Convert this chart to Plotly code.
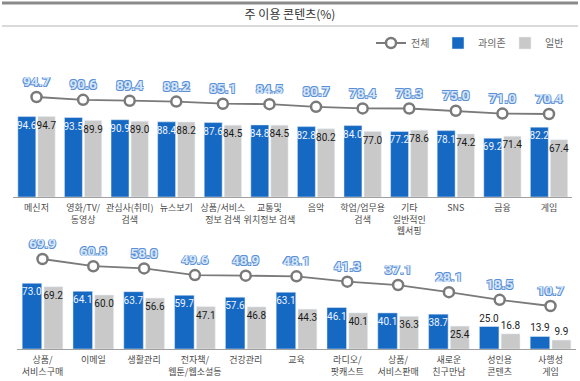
import plotly.graph_objects as go

# ---------------- data ----------------
top_categories = ["메신저", "영화/TV/<br>동영상", "관심사(취미)<br>검색", "뉴스보기",
                  "상품/서비스<br>정보 검색", "교통및<br>위치정보 검색", "음악",
                  "학업/업무용<br>검색", "기타<br>일반적인<br>웹서핑", "SNS", "금융", "게임"]
top_total = [94.7, 90.6, 89.4, 88.2, 85.1, 84.5, 80.7, 78.4, 78.3, 75.0, 71.0, 70.4]
top_overdep = [94.6, 93.5, 90.9, 88.4, 87.6, 84.8, 82.8, 84.0, 77.2, 78.1, 69.2, 82.2]
top_general = [94.7, 89.9, 89.0, 88.2, 84.5, 84.5, 80.2, 77.0, 78.6, 74.2, 71.4, 67.4]

bot_categories = ["상품/<br>서비스구매", "이메일", "생활관리", "전자책/<br>웹툰/웹소설등",
                  "건강관리", "교육", "라디오/<br>팟캐스트", "상품/<br>서비스판매",
                  "새로운<br>친구만남", "성인용<br>콘텐츠", "사행성<br>게임"]
bot_total = [69.9, 60.8, 58.0, 49.6, 48.9, 48.1, 41.3, 37.1, 28.1, 18.5, 10.7]
bot_overdep = [73.0, 64.1, 63.7, 59.7, 57.6, 63.1, 46.1, 40.1, 38.7, 25.0, 13.9]
bot_general = [69.2, 60.0, 56.6, 47.1, 46.8, 44.3, 40.1, 36.3, 25.4, 16.8, 9.9]

# label placement styles (bottom row short bars get labels above)
bot_overdep_pos = ["inside"] * 9 + ["outside"] * 2
bot_general_pos = ["inside"] * 9 + ["outside"] * 2

# ---------------- style ----------------
W, H = 580, 381
BLUE = "#1669c3"
GRAY = "#c9c9c9"
LINE = "#7a7a7a"
NUMFONT = "Roboto, sans-serif"
KFONT = "Noto Sans CJK KR, sans-serif"
OC = "#5b8fd6"
shadow = (f"0.8px 0.8px 0 {OC}, -0.8px -0.8px 0 {OC}, 0.8px -0.8px 0 {OC}, -0.8px 0.8px 0 {OC}")

def fy(px):
    return (H - px) / H

def fx(px):
    return px / W

fig = go.Figure()

def add_panel(cats, total, over, gen, xa, ya_bar, ya_line, show, over_pos, gen_pos):
    # gray first so that the blue labels are drawn on top of it
    fig.add_trace(go.Bar(
        x=cats, y=gen, name="일반", marker_color=GRAY, xaxis=xa, yaxis=ya_bar,
        offset=0.03, width=0.37,
        text=[f"{v:.1f}" for v in gen], textposition=gen_pos, insidetextanchor="end",
        textangle=0,
        insidetextfont=dict(color="#1a1a1a", size=10, family=NUMFONT),
        outsidetextfont=dict(color="#222", size=10, family=NUMFONT),
        constraintext="none", cliponaxis=False, showlegend=show, legendgroup="g",
        legendrank=3, hoverinfo="skip"))
    fig.add_trace(go.Bar(
        x=cats, y=over, name="과의존", marker_color=BLUE, xaxis=xa, yaxis=ya_bar,
        offset=-0.40, width=0.385,
        text=[f"{v:.1f}" for v in over], textposition=over_pos, insidetextanchor="end",
        textangle=0,
        insidetextfont=dict(color="#eef4ff", size=10, family=NUMFONT),
        outsidetextfont=dict(color="#222", size=10, family=NUMFONT),
        constraintext="none", cliponaxis=False, showlegend=show, legendgroup="o",
        legendrank=2, hoverinfo="skip"))
    fig.add_trace(go.Scatter(
        x=cats, y=total, name="전체", mode="lines+markers+text", xaxis=xa, yaxis=ya_line,
        line=dict(color=LINE, width=1.8),
        marker=dict(symbol="circle", size=10, color="white", line=dict(color=LINE, width=2.5)),
        text=[f"{v:.1f}" for v in total], textposition="top center",
        textfont=dict(color="#d6e6fa", size=13.5, family=NUMFONT, weight="bold", shadow=shadow),
        cliponaxis=False, showlegend=show, legendgroup="t", legendrank=1, hoverinfo="skip"))

add_panel(top_categories, top_total, top_overdep, top_general, "x", "y", "y2", True,
          "inside", "inside")
add_panel(bot_categories, bot_total, bot_overdep, bot_general, "x2", "y3", "y4", False,
          bot_overdep_pos, bot_general_pos)

# panel geometry
top_base, top_top = 197, 60
bot_base, bot_top = 349, 230
xaxis_common = dict(type="category", showline=True, linecolor="#a0a0a0", linewidth=1,
                    ticks="", showgrid=False, zeroline=False, tickangle=0,
                    ticklabelstandoff=2,
                    tickfont=dict(size=9, color="#4a4a4a", family=KFONT), fixedrange=True)
yaxis_common = dict(visible=False, showgrid=False, zeroline=False, fixedrange=True)

fig.update_layout(
    width=W, height=H, margin=dict(l=0, r=0, t=0, b=0),
    paper_bgcolor="white", plot_bgcolor="white",
    barmode="overlay",
    font=dict(family=KFONT, color="#444"),
    xaxis=dict(domain=[fx(13.2), fx(572.3)], range=[-0.5, 11.5], anchor="y", **xaxis_common),
    yaxis=dict(domain=[fy(top_base), fy(top_top)],
               range=[0, (top_base - top_top) / 0.85], **yaxis_common),
    yaxis2=dict(domain=[fy(top_base), fy(top_top)], overlaying="y",
                range=[94.7 - (top_base - 97) / 0.7, 94.7 + (97 - top_top) / 0.7],
                **yaxis_common),
    xaxis2=dict(domain=[fx(17.1), fx(575.9)], range=[-0.5, 10.5], anchor="y3", **xaxis_common),
    yaxis3=dict(domain=[fy(bot_base), fy(bot_top)],
                range=[0, (bot_base - bot_top) / 0.9], **yaxis_common),
    yaxis4=dict(domain=[fy(bot_base), fy(bot_top)], overlaying="y3",
                range=[10.7 - (bot_base - 306) / 0.794, 10.7 + (306 - bot_top) / 0.794],
                **yaxis_common),
    legend=dict(orientation="h", x=fx(572), xanchor="right", y=fy(43), yanchor="middle",
                font=dict(size=10, color="#666", family=KFONT), traceorder="normal",
                itemwidth=30, entrywidth=22, bgcolor="rgba(0,0,0,0)"),
    title=dict(text="주 이용 콘텐츠(%)", x=0.5, xanchor="center", y=fy(15), yanchor="middle",
               font=dict(size=12, color="#333", family=KFONT)),
    shapes=[
        dict(type="line", xref="paper", yref="paper", x0=fx(2), x1=fx(578), y0=fy(3), y1=fy(3),
             line=dict(color="#8a8a8a", width=3)),
        dict(type="line", xref="paper", yref="paper", x0=fx(2), x1=fx(578), y0=fy(26), y1=fy(26),
             line=dict(color="#b5b5b5", width=1)),
    ],
)

fig.write_html("out.html", config={"displayModeBar": False},
               post_script="document.body.style.margin='0';document.body.style.overflow='hidden';")
